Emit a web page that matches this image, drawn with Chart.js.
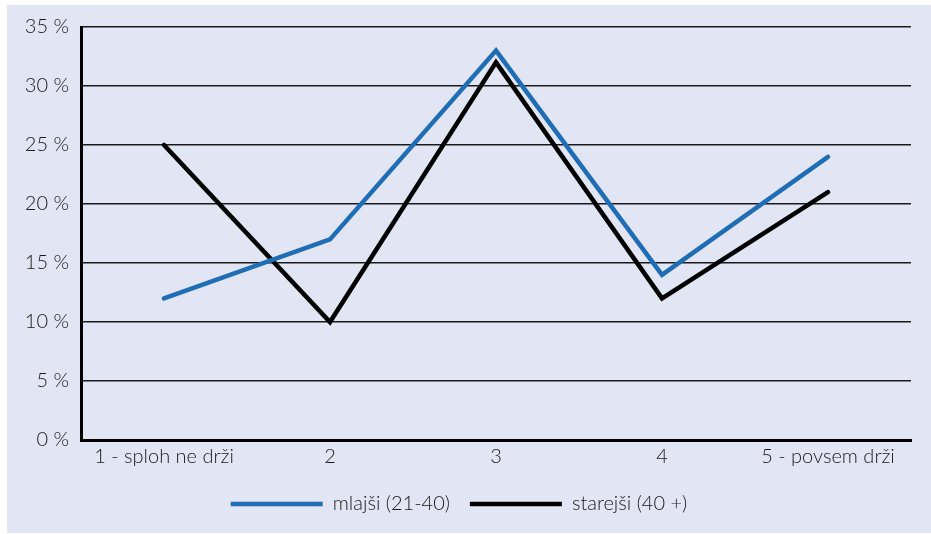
<!DOCTYPE html>
<html>
<head>
<meta charset="utf-8">
<script src="https://cdn.jsdelivr.net/npm/chart.js@4/dist/chart.umd.min.js"></script>
<style>
  html, body { margin: 0; padding: 0; background: #ffffff; }
  #c { display: block; }
</style>
</head>
<body>
<canvas id="c" width="931" height="534"></canvas>
<script>
const categories = ["1 - sploh ne drži", "2", "3", "4", "5 - povsem drži"];
const younger = [12, 17, 33, 14, 24];
const older = [25, 10, 32, 12, 21];
const seriesNames = ["mlajši (21-40)", "starejši (40 +)"];
const yMax = 35;
const yStep = 5;

const bgPlugin = {
  id: 'bg',
  beforeDraw(chart) {
    const ctx = chart.ctx;
    ctx.save();
    ctx.fillStyle = '#ffffff';
    ctx.fillRect(0, 0, chart.width, chart.height);
    ctx.fillStyle = '#e2e5f4';
    ctx.fillRect(7, 5, chart.width - 7, chart.height - 6);
    ctx.restore();
  }
};

const font = { family: "Lato, 'Open Sans', sans-serif", size: 20, weight: '300' };

new Chart(document.getElementById('c'), {
  type: 'line',
  data: {
    labels: categories,
    datasets: [
      { label: seriesNames[0], data: younger, borderColor: '#1f6db4', backgroundColor: '#1f6db4', borderWidth: 4.5, pointRadius: 0, tension: 0, borderJoinStyle: 'miter', borderCapStyle: 'round' },
      { label: seriesNames[1], data: older, borderColor: '#000000', backgroundColor: '#000000', borderWidth: 4.5, pointRadius: 0, tension: 0, borderJoinStyle: 'miter', borderCapStyle: 'round' }
    ]
  },
  options: {
    responsive: false,
    animation: false,
    layout: { padding: { left: 7, right: 20, top: 27, bottom: 10 } },
    plugins: {
      legend: {
        position: 'bottom',
        labels: { usePointStyle: true, pointStyle: 'line', pointStyleWidth: 92, padding: 20, color: '#1a1a1a', font: font }
      },
      tooltip: { enabled: false }
    },
    scales: {
      x: {
        offset: true,
        grid: { display: false, drawTicks: false },
        border: { display: true, color: '#000', width: 3 },
        ticks: { color: '#1a1a1a', font: font, padding: 5 }
      },
      y: {
        min: 0, max: yMax,
        afterFit(s) { s.width = 74; },
        grid: { color: '#1a1a1a', lineWidth: 1.5, drawTicks: false },
        border: { display: true, color: '#000', width: 3 },
        ticks: { stepSize: yStep, color: '#1a1a1a', font: font, padding: 12, callback: v => v + ' %' }
      }
    }
  },
  plugins: [bgPlugin]
});
</script>
</body>
</html>
